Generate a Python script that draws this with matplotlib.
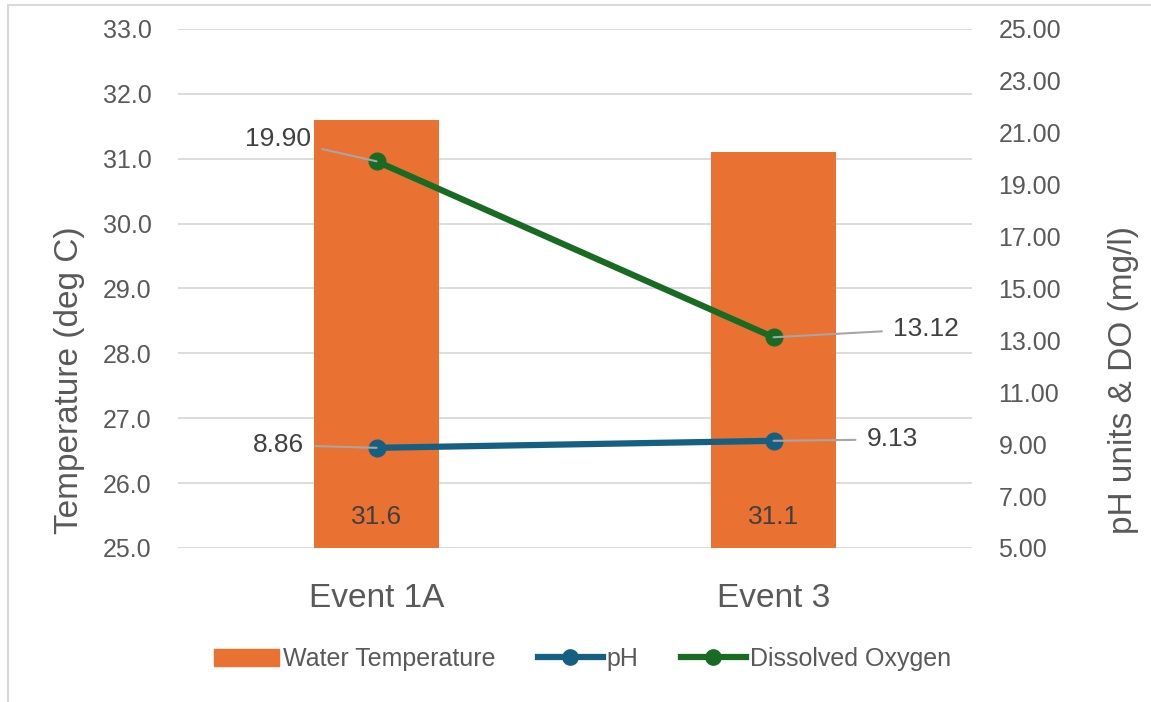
import matplotlib.pyplot as plt
from matplotlib.lines import Line2D
from matplotlib.patches import Patch, Rectangle

events = ['Event 1A', 'Event 3']
water_temp = [31.6, 31.1]
ph = [8.86, 9.13]
dissolved_oxygen = [19.90, 13.12]

orange = '#E97132'
blue = '#156082'
green = '#196B24'
grey_text = '#595959'

plt.rcParams['font.family'] = ['Liberation Sans', 'DejaVu Sans']

fig = plt.figure(figsize=(11.51, 7.02), dpi=100)
ax = fig.add_axes([0.1547, 0.2194, 0.6898, 0.7393])
ax2 = ax.twinx()

x = list(range(len(events)))

# bars on the temperature axis
ax.bar(x, water_temp, width=0.315, color=orange, zorder=2)
ax.set_ylim(25, 33)
ax.set_yticks([25 + i for i in range(9)])
ax.set_yticklabels([f'{25 + i:.1f}' for i in range(9)])
ax.set_xlim(-0.5, 1.5)
ax.set_xticks(x)
ax.set_xticklabels(events)
ax.grid(axis='y', color='#D9D9D9', linewidth=1.3, zorder=0)
ax.set_axisbelow(True)
ax.set_ylabel('Temperature (deg C)', fontsize=24, color=grey_text)
ax.yaxis.set_label_coords(-0.117, 0.324)
for xi, v in zip(x, water_temp):
    ax.text(xi, 25.47, f'{v:.1f}', ha='center', va='center', fontsize=19, color='#404040', zorder=3)

# lines on the pH / DO axis
ax2.plot(x, ph, color=blue, linewidth=4.5, marker='o', markersize=12, zorder=4)
ax2.plot(x, dissolved_oxygen, color=green, linewidth=4.5, marker='o', markersize=12, zorder=4)
ax2.set_ylim(5, 25)
ax2.set_yticks([5 + 2 * i for i in range(11)])
ax2.set_yticklabels([f'{5 + 2 * i:.2f}' for i in range(11)])
ax2.set_ylabel('pH units & DO (mg/l)', fontsize=24, color=grey_text)
ax2.yaxis.set_label_coords(1.171, 0.324)

for a in (ax, ax2):
    for s in a.spines.values():
        s.set_visible(False)
    a.tick_params(axis='both', length=0, labelsize=18, labelcolor=grey_text, pad=19)
ax.tick_params(axis='x', pad=25, labelsize=24)

# data labels with leader lines
leader = dict(arrowstyle='-', color='#A6A6A6', linewidth=1.5, shrinkA=6, shrinkB=0)
labels = [
    (0, dissolved_oxygen[0], (-47, 16), 'right'),
    (1, dissolved_oxygen[1], (86, 6), 'left'),
    (0, ph[0], (-52, 2), 'right'),
    (1, ph[1], (67, 1), 'left'),
]
for xi, v, off, ha in labels:
    ax2.annotate(f'{v:.2f}', xy=(xi, v), xytext=off, textcoords='offset points',
                 ha=ha, va='center', fontsize=19, color='#404040',
                 arrowprops=leader, zorder=5)

handles = [
    Patch(facecolor=orange, edgecolor=orange),
    Line2D([0], [0], color=blue, linewidth=4.5, marker='o', markersize=11),
    Line2D([0], [0], color=green, linewidth=4.5, marker='o', markersize=11),
]
fig.legend(handles, ['Water Temperature', 'pH', 'Dissolved Oxygen'],
           loc='center', bbox_to_anchor=(0.506, 0.061), ncol=3, frameon=False,
           fontsize=18, labelcolor=grey_text, handlelength=2.6, handletextpad=0.15,
           columnspacing=1.7)

# outer frame of the chart
fig.patches.append(Rectangle((0.007, -0.01), 1.2, 1.003, transform=fig.transFigure,
                             fill=False, edgecolor='#D9D9D9', linewidth=1.5))

fig.savefig('out.png', dpi=100)
